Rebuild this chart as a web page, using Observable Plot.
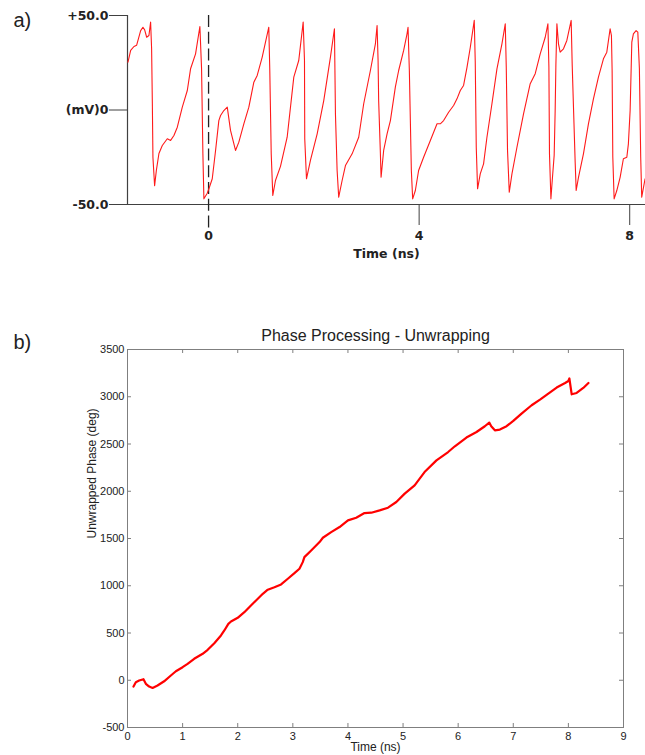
<!DOCTYPE html>
<html><head><meta charset="utf-8">
<script src="https://cdn.jsdelivr.net/npm/d3@7"></script>
<script src="https://cdn.jsdelivr.net/npm/@observablehq/plot@0.6"></script>
<style>
body{margin:0;background:#fff;}
#wrap{width:645px;height:755px;position:relative;overflow:hidden;background:#fff;}
#wrap svg{display:block;}
</style></head><body><div id="wrap"></div>
<script>
// ---------- Panel a: waveform (time in ns, voltage in mV) ----------
const waveTime = [-1.531,-1.480,-1.417,-1.366,-1.290,-1.247,-1.214,-1.176,-1.133,-1.101,-1.082,-1.068,-1.057,-1.025,-0.992,-0.943,-0.879,-0.784,-0.721,-0.658,-0.594,-0.499,-0.404,-0.342,-0.247,-0.165,-0.133,-0.108,-0.089,-0.025,0.006,0.070,0.133,0.195,0.228,0.290,0.355,0.417,0.512,0.575,0.670,0.765,0.860,0.924,1.019,1.144,1.163,1.190,1.220,1.271,1.366,1.493,1.619,1.713,1.797,1.822,1.827,1.860,1.935,2.063,2.188,2.315,2.391,2.410,2.442,2.472,2.537,2.600,2.727,2.852,2.947,3.074,3.169,3.201,3.220,3.231,3.264,3.277,3.326,3.391,3.454,3.548,3.611,3.706,3.770,3.789,3.814,3.833,3.852,3.877,3.928,3.990,4.085,4.213,4.340,4.402,4.465,4.560,4.655,4.719,4.782,4.844,4.909,4.972,5.047,5.066,5.085,5.110,5.161,5.224,5.288,5.383,5.478,5.573,5.636,5.655,5.679,5.712,5.763,5.858,5.983,6.110,6.205,6.300,6.395,6.446,6.465,6.476,6.503,6.533,6.565,6.584,6.598,6.617,6.647,6.679,6.742,6.806,6.888,6.907,6.932,6.964,6.983,7.027,7.121,7.216,7.311,7.406,7.501,7.565,7.628,7.653,7.666,7.679,7.704,7.755,7.818,7.880,7.945,7.975,8.008,8.040,8.070,8.121,8.154,8.184,8.209,8.228,8.292];
const waveMV = [25.3,31.5,33.6,34.3,42.0,43.8,42.4,38.5,39.4,46.5,32.4,3.4,-25,-40,-32,-23,-18.8,-15.2,-16.1,-13.5,-9.1,1.5,10.3,21.8,29.7,44.2,21.8,-23,-47,-44,-41.7,-36.4,-21.4,-5.6,-2.9,-0.3,1.5,-10.8,-21.4,-17,-7.3,1.5,14.7,18.3,28,43.8,20.9,-23,-45.2,-37.3,-29.8,-14.4,17.4,26.2,46.5,26.2,-15.2,-36.4,-26.7,-12.6,5,28,43,-2,-32,-46.1,-37.3,-29.4,-23.2,-14.4,3.3,20.9,35,44.7,26.2,5,-23.2,-35.6,-21.4,-12.6,-5.6,12.1,20.9,31.5,40.3,43.8,20.9,-5.6,-32,-47,-42.6,-32,-25,-16.1,-7.3,-7.3,-5.6,-1.2,2.4,5.9,10.3,13,22.6,33.2,47.4,25.3,-19.7,-41.7,-33.8,-28.5,-14.4,3.3,21.8,35,45.6,22.6,-21.4,-43.5,-33.8,-19.7,-2,13.9,19.2,29.7,38.5,45.6,22.6,-23.2,-47,-35.6,-24,-0.3,24.4,45.6,35,30.6,32.4,36.8,47.4,24.4,1.5,-27.6,-42.6,-35.6,-23.2,-7.3,5.9,17.4,27.1,30.6,43,39.4,20.9,-25,-47,-42.6,-35.6,-25.8,-25,-17.9,-0.3,35.9,40.3,42,41.2,21.8,-25,-46.1,-36.4];
const waveDomainX = [-1.54, 8.3];
const waveDomainY = [-50, 50];
const waveTicksY = [-50, 0, 50];
const waveTickLabelsY = ["-50.0", "(mV)0", "+50.0"];
const waveTicksX = [4, 8];
const waveMarkerX = [0];

// ---------- Panel b: unwrapped phase (time in ns, degrees) ----------
const phaseTime = [0.109,0.151,0.211,0.29,0.333,0.393,0.455,0.545,0.665,0.787,0.878,1.0,1.09,1.21,1.364,1.455,1.575,1.696,1.757,1.83,1.878,2.0,2.12,2.24,2.364,2.455,2.545,2.666,2.787,2.909,3.029,3.12,3.18,3.21,3.333,3.485,3.545,3.696,3.848,4.0,4.15,4.30,4.424,4.575,4.727,4.878,5.03,5.21,5.39,5.606,5.818,5.94,6.15,6.333,6.484,6.564,6.6,6.666,6.757,6.878,7.0,7.15,7.333,7.485,7.636,7.787,7.94,8.0,8.018,8.06,8.15,8.27,8.364];
const phaseDeg = [-67,-21,-3,11,-38,-67,-81,-56,-11,50,95,138,174,227,280,322,392,474,527,597,622,661,720,791,862,915,958,985,1014,1074,1133,1180,1250,1303,1374,1462,1508,1568,1621,1692,1720,1769,1773,1798,1826,1886,1975,2063,2203,2327,2415,2476,2568,2627,2688,2727,2688,2645,2653,2688,2744,2822,2910,2970,3034,3097,3146,3167,3193,3026,3040,3093,3146];
const phaseTicksX = [0,1,2,3,4,5,6,7,8,9];
const phaseTicksY = [-500,0,500,1000,1500,2000,2500,3000,3500];

const wave = waveTime.map((t, i) => ({t, v: waveMV[i]}));
const phase = phaseTime.map((t, i) => ({t, deg: phaseDeg[i]}));

const fontA = "'DejaVu Sans', sans-serif";
const fontB = "'Liberation Sans', Arial, sans-serif";

const plotA = Plot.plot({
  width: 645, height: 270,
  marginLeft: 127, marginRight: 0, marginTop: 15, marginBottom: 66,
  style: {background: "white", fontFamily: fontA, color: "#222", overflow: "visible"},
  x: {domain: waveDomainX},
  y: {domain: waveDomainY},
  marks: [
    Plot.ruleY([waveDomainY[0]], {stroke: "#404040", strokeWidth: 1.2}),
    Plot.ruleX([waveDomainX[0]], {stroke: "#404040", strokeWidth: 1.2}),
    Plot.axisY(waveTicksY, {tickSize: 18, tickPadding: 1, label: null, stroke: "#404040",
      tickFormat: d => waveTickLabelsY[waveTicksY.indexOf(d)], fontWeight: "bold", fontSize: 12.5}),
    Plot.axisX(waveTicksX, {tickSize: 21, tickPadding: 6, label: null, stroke: "#404040",
      fontWeight: "bold", fontSize: 12.5, tickFormat: d => String(d)}),
    Plot.axisX(waveMarkerX, {tickSize: 21, tickPadding: 6, label: null, stroke: "none",
      fontWeight: "bold", fontSize: 12.5, tickFormat: d => String(d)}),
    Plot.ruleX(waveMarkerX, {stroke: "#222", strokeWidth: 1.3, strokeDasharray: "12,4.7", insetBottom: -24}),
    Plot.line(wave, {x: "t", y: "v", stroke: "#ff1a1a", strokeWidth: 1.1}),
    Plot.text(["Time (ns)"], {frameAnchor: "bottom", lineAnchor: "middle", dy: 49, fontWeight: "bold", fontSize: 12.5}),
    Plot.text(["a)"], {frameAnchor: "top-left", lineAnchor: "middle", dx: -114, dy: 4.6, textAnchor: "start", fontSize: 20, fontFamily: fontB})
  ]
});

const bW = 645, bH = 485, bL = 127, bR = 22, bT = 79, bB = 28, tickLen = 4;
const frameW = bW - bL - bR, frameH = bH - bT - bB;

const plotB = Plot.plot({
  width: bW, height: bH,
  marginLeft: bL, marginRight: bR, marginTop: bT, marginBottom: bB,
  style: {background: "white", fontFamily: fontB, fontSize: "11px", color: "#222", overflow: "visible"},
  x: {domain: [phaseTicksX[0], phaseTicksX[phaseTicksX.length - 1]]},
  y: {domain: [phaseTicksY[0], phaseTicksY[phaseTicksY.length - 1]]},
  marks: [
    Plot.tickX(phaseTicksX, {x: d => d, insetTop: frameH - tickLen, stroke: "#7f7f7f"}),
    Plot.tickX(phaseTicksX, {x: d => d, insetBottom: frameH - tickLen, stroke: "#7f7f7f"}),
    Plot.tickY(phaseTicksY, {y: d => d, insetRight: frameW - tickLen, stroke: "#7f7f7f"}),
    Plot.tickY(phaseTicksY, {y: d => d, insetLeft: frameW - tickLen, stroke: "#7f7f7f"}),
    Plot.frame({stroke: "#7f7f7f"}),
    Plot.axisX(phaseTicksX, {anchor: "bottom", tickSize: 0, tickPadding: 5, label: null, fontSize: 11, tickFormat: d => String(d)}),
    Plot.axisY(phaseTicksY, {anchor: "left", tickSize: 0, tickPadding: 3, label: null, fontSize: 11, tickFormat: d => String(d)}),
    Plot.line(phase, {x: "t", y: "deg", stroke: "#ff0000", strokeWidth: 2.2}),
    Plot.text(["Phase Processing - Unwrapping"], {frameAnchor: "top", lineAnchor: "middle", dy: -14, fontSize: 16}),
    Plot.text(["Unwrapped Phase (deg)"], {frameAnchor: "left", lineAnchor: "middle", dx: -35, rotate: -90, fontSize: 12}),
    Plot.text(["Time (ns)"], {frameAnchor: "bottom", lineAnchor: "middle", dy: 20, fontSize: 12}),
    Plot.text(["b)"], {frameAnchor: "top-left", lineAnchor: "middle", dx: -114, dy: -7, textAnchor: "start", fontSize: 20})
  ]
});

const wrap = document.getElementById("wrap");
wrap.appendChild(plotA);
wrap.appendChild(plotB);
</script>
</body></html>
